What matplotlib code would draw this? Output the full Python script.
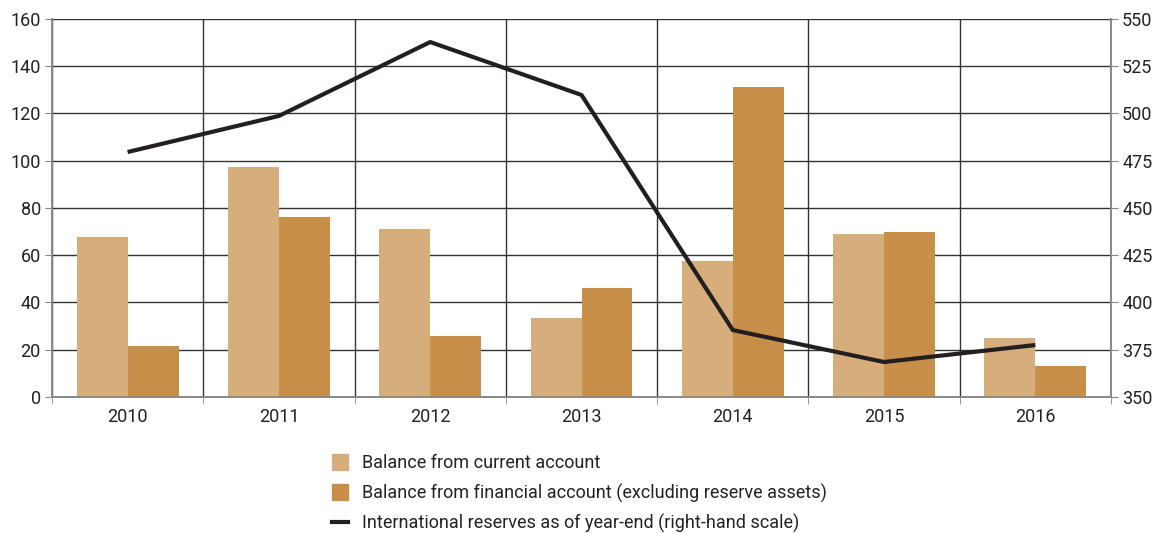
import numpy as np
import matplotlib
matplotlib.use("Agg")
import matplotlib.pyplot as plt
from matplotlib import ticker
from matplotlib.patches import Patch
from matplotlib.lines import Line2D

plt.rcParams['font.family'] = ['Roboto', 'DejaVu Sans']

# data
years = ["2010", "2011", "2012", "2013", "2014", "2015", "2016"]
current_account = [67.7, 97.4, 71.1, 33.4, 57.6, 69.0, 25.0]
financial_account = [21.6, 76.2, 25.8, 46.1, 131.2, 69.8, 13.1]
reserves = [479.6, 498.7, 537.8, 509.8, 385.4, 368.5, 377.5]

c_light = "#D6AE7C"
c_dark = "#C78F4A"
c_line = "#231F20"
grid_c = "#333333"

fig = plt.figure(figsize=(11.6, 5.33), dpi=100)
ax = fig.add_axes([0.0448, 0.2552, 0.913, 0.7092])
ax2 = ax.twinx()

x = np.arange(len(years))
width = 0.337
ax.bar(x - width / 2, current_account, width=width, color=c_light, zorder=3)
ax.bar(x + width / 2, financial_account, width=width, color=c_dark, zorder=3)

ax2.plot(x, reserves, color=c_line, linewidth=3, solid_capstyle="butt", zorder=4)

ax.set_xlim(-0.5, len(years) - 0.5)
ax.set_ylim(0, 160)
ax2.set_ylim(350, 550)
ax.yaxis.set_major_locator(ticker.MultipleLocator(20))
ax2.yaxis.set_major_locator(ticker.MultipleLocator(25))

ax.set_xticks(x)
ax.set_xticklabels(years)
ax.set_xticks(np.arange(len(years) + 1) - 0.5, minor=True)
ax.tick_params(axis="x", which="major", length=0, labelsize=13, pad=8, labelcolor="#222222")
ax.tick_params(axis="x", which="minor", length=5, color="#888888")
ax.tick_params(axis="y", labelsize=13, length=5, color="#888888", pad=3, labelcolor="#222222")
ax2.tick_params(axis="y", labelsize=13, length=5, color="#888888", pad=3, labelcolor="#222222")

ax.grid(True, axis="y", color=grid_c, linewidth=1, zorder=0)
ax.grid(True, axis="x", which="minor", color=grid_c, linewidth=1, zorder=0)
ax.set_axisbelow(True)

for a in (ax, ax2):
    a.spines["top"].set_visible(False)
    for s in ("left", "right", "bottom"):
        a.spines[s].set_color("#888888")
        a.spines[s].set_linewidth(1.2)

handles = [
    Patch(color=c_light, label="Balance from current account"),
    Patch(color=c_dark, label="Balance from financial account (excluding reserve assets)"),
    Line2D([0], [0], color=c_line, linewidth=3, label="International reserves as of year-end (right-hand scale)"),
]
leg = fig.legend(handles=handles, loc="upper left", bbox_to_anchor=(0.2785, 0.165),
                 frameon=False, fontsize=13, handlelength=0.9, handleheight=1.0,
                 handletextpad=0.75, labelspacing=0.62, borderpad=0)
for t in leg.get_texts():
    t.set_color("#222222")

fig.savefig("out.png", dpi=100)
